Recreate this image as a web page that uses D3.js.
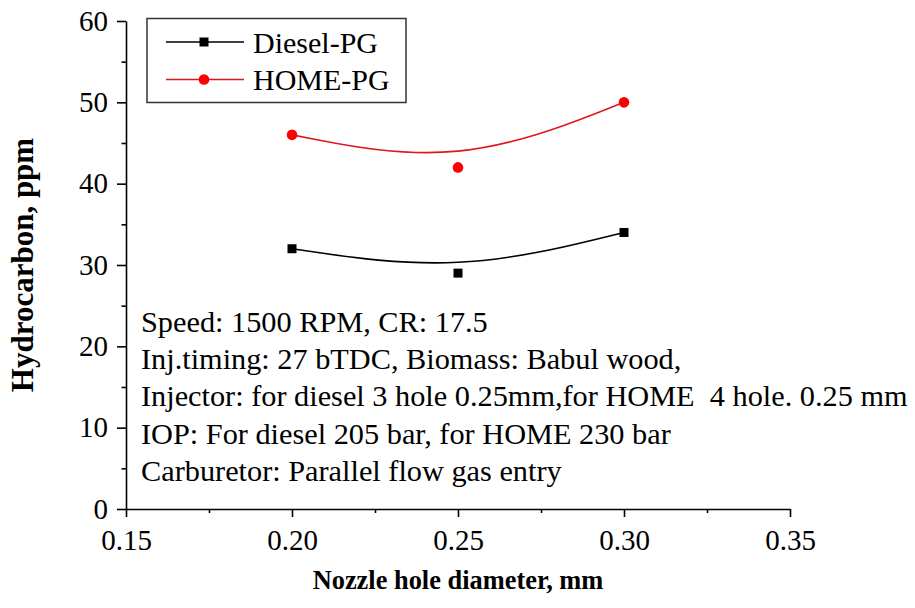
<!DOCTYPE html>
<html lang="en">
<head>
    <meta charset="UTF-8">
    <title>Hydrocarbon vs nozzle hole diameter</title>
    <style>
        body { margin: 0; background: #fff; }
        svg { display: block; }
    </style>
</head>
<body>

<div id="chart"></div>

<script src="https://d3js.org/d3.v7.min.js"></script>
<script>
    // data
    var nozzle = [0.20, 0.25, 0.30];
    var dieselPG = [32, 29, 34];
    var homePG = [46, 42, 50];

    var xTicks = [0.15, 0.20, 0.25, 0.30, 0.35];
    var xMinor = [0.175, 0.225, 0.275, 0.325];
    var yTicks = [0, 10, 20, 30, 40, 50, 60];
    var yMinor = [5, 15, 25, 35, 45, 55];

    var notes = [
        "Speed: 1500 RPM, CR: 17.5",
        "Inj.timing: 27 bTDC, Biomass: Babul wood,",
        "Injector: for diesel 3 hole 0.25mm,for HOME  4 hole. 0.25 mm",
        "IOP: For diesel 205 bar, for HOME 230 bar",
        "Carburetor: Parallel flow gas entry"
    ];

    var FONT = "Liberation Serif";
    var W = 915, H = 608;
    var margin = {top: 21, left: 126};
    var vp = {width: 664, height: 488};

    var svg = d3.select("#chart").append("svg")
        .attr("width", W)
        .attr("height", H);

    var g = svg.append("g")
        .attr("transform", "translate(" + margin.left + "," + margin.top + ")");

    var x = d3.scaleLinear().domain([0.15, 0.35]).range([0, vp.width]);
    var y = d3.scaleLinear().domain([0, 60]).range([vp.height, 0]);

    // axes (major + minor ticks)
    function styleAxis(sel) {
        sel.attr("font-family", FONT).attr("font-size", 29);
        sel.selectAll("path, line").attr("stroke", "#000").attr("stroke-width", 1.6);
        sel.selectAll("text").attr("fill", "#000");
    }

    var xAxis = g.append("g").attr("transform", "translate(0," + vp.height + ")")
        .call(d3.axisBottom(x).tickValues(xTicks).tickFormat(d3.format(".2f"))
            .tickSize(8).tickSizeOuter(0).tickPadding(12));
    styleAxis(xAxis);
    var xAxisMinor = g.append("g").attr("transform", "translate(0," + vp.height + ")")
        .call(d3.axisBottom(x).tickValues(xMinor).tickFormat("").tickSize(4).tickSizeOuter(0));
    styleAxis(xAxisMinor);
    xAxisMinor.select(".domain").remove();

    var yAxis = g.append("g")
        .call(d3.axisLeft(y).tickValues(yTicks).tickFormat(d3.format("d"))
            .tickSize(9).tickSizeOuter(0).tickPadding(9));
    styleAxis(yAxis);
    var yAxisMinor = g.append("g")
        .call(d3.axisLeft(y).tickValues(yMinor).tickFormat("").tickSize(4.5).tickSizeOuter(0));
    styleAxis(yAxisMinor);
    yAxisMinor.select(".domain").remove();

    // series
    var series = [
        {name: "Diesel-PG", values: dieselPG, color: "#000000", line: "#000000", shape: "square"},
        {name: "HOME-PG", values: homePG, color: "#ff0000", line: "#e0161e", shape: "circle"}
    ];

    var line = d3.line()
        .x(function (d) { return x(d.x); })
        .y(function (d) { return y(d.y); })
        .curve(d3.curveBasis);

    function drawMarker(sel, shape, color, cx, cy) {
        if (shape === "square") {
            sel.append("rect")
                .attr("x", cx - 4.5).attr("y", cy - 4.5)
                .attr("width", 9).attr("height", 9)
                .attr("fill", color);
        } else {
            sel.append("circle")
                .attr("cx", cx).attr("cy", cy).attr("r", 5.3)
                .attr("fill", color);
        }
    }

    series.forEach(function (s) {
        var pts = nozzle.map(function (n, i) { return {x: n, y: s.values[i]}; });
        g.append("path")
            .datum(pts)
            .attr("d", line)
            .attr("fill", "none")
            .attr("stroke", s.line)
            .attr("stroke-width", 1.6);
        var mg = g.append("g");
        pts.forEach(function (p) {
            drawMarker(mg, s.shape, s.color, x(p.x), y(p.y));
        });
    });

    // legend
    var legend = svg.append("g");
    legend.append("rect")
        .attr("x", 147).attr("y", 18.5)
        .attr("width", 259).attr("height", 84)
        .attr("fill", "#fff")
        .attr("stroke", "#333").attr("stroke-width", 1.5);

    series.forEach(function (s, i) {
        var cy = 42 + i * 37.5;
        legend.append("line")
            .attr("x1", 166).attr("x2", 244)
            .attr("y1", cy).attr("y2", cy)
            .attr("stroke", s.line).attr("stroke-width", 1.6);
        drawMarker(legend, s.shape, s.color, 204, cy);
        legend.append("text")
            .attr("x", 253).attr("y", cy + 10.5)
            .attr("font-family", FONT)
            .attr("font-size", 30)
            .text(s.name);
    });

    // notes
    svg.append("g").selectAll("text")
        .data(notes).enter()
        .append("text")
        .attr("x", 141)
        .attr("y", function (d, i) { return 332 + i * 37.2; })
        .attr("font-family", FONT)
        .attr("font-size", 30.3)
        .attr("xml:space", "preserve")
        .style("white-space", "pre")
        .text(function (d) { return d; });

    // axis titles
    svg.append("text")
        .attr("x", 458).attr("y", 589)
        .attr("text-anchor", "middle")
        .attr("font-family", FONT)
        .attr("font-size", 26.4)
        .attr("font-weight", "bold")
        .text("Nozzle hole diameter, mm");

    svg.append("text")
        .attr("transform", "translate(33,265) rotate(-90)")
        .attr("text-anchor", "middle")
        .attr("font-family", FONT)
        .attr("font-size", 31)
        .attr("font-weight", "bold")
        .text("Hydrocarbon, ppm");
</script>

</body>
</html>
